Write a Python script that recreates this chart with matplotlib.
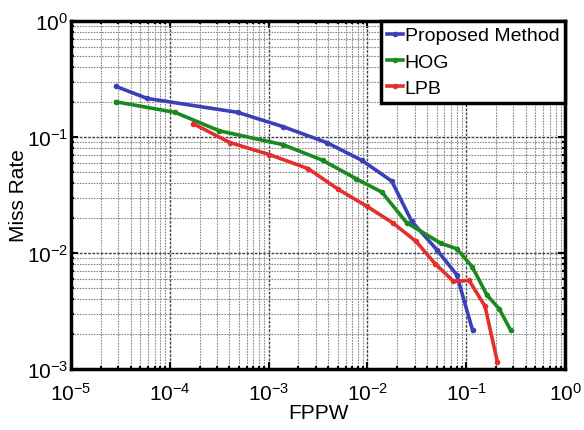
import numpy as np
import matplotlib.pyplot as plt

plt.rcParams['font.family'] = ['Liberation Sans', 'DejaVu Sans']
plt.rcParams['mathtext.fontset'] = 'custom'
plt.rcParams['mathtext.rm'] = 'Liberation Sans'
plt.rcParams['mathtext.it'] = 'Liberation Sans'

# data (FPPW, miss rate)
prop_x = [2.85e-5, 5.9e-5, 4.86e-4, 1.39e-3, 3.87e-3, 8.75e-3, 0.0176, 0.028, 0.0502, 0.080, 0.116]
prop_y = [0.273, 0.215, 0.163, 0.123, 0.0895, 0.063, 0.0417, 0.0188, 0.0107, 0.0065, 0.00215]

hog_x = [2.85e-5, 1.13e-4, 3.17e-4, 1.39e-3, 3.52e-3, 7.67e-3, 0.01397, 0.025, 0.0556, 0.080, 0.115, 0.161, 0.216, 0.282]
hog_y = [0.201, 0.163, 0.113, 0.086, 0.063, 0.0437, 0.0335, 0.0182, 0.0121, 0.0109, 0.0076, 0.00437, 0.00329, 0.00215]

lpb_x = [1.73e-4, 4.06e-4, 1.02e-3, 2.52e-3, 5.08e-3, 9.85e-3, 0.018, 0.031, 0.0483, 0.0741, 0.107, 0.155, 0.207]
lpb_y = [0.130, 0.0895, 0.0705, 0.0533, 0.0353, 0.0253, 0.0182, 0.0126, 0.0081, 0.0057, 0.0058, 0.00346, 0.00114]

fig = plt.figure(figsize=(5.84, 4.31), dpi=100)
ax = fig.add_axes([0.1216, 0.1415, 0.846, 0.8075])

ax.plot(prop_x, prop_y, color='#3b40b8', lw=2.6, marker='.', ms=6, label='Proposed Method')
ax.plot(hog_x, hog_y, color='#1a8a1f', lw=2.6, marker='.', ms=6, label='HOG')
ax.plot(lpb_x, lpb_y, color='#e3302f', lw=2.6, marker='.', ms=6, label='LPB')

ax.set_xscale('log')
ax.set_yscale('log')
ax.set_xlim(1e-5, 1)
ax.set_ylim(1e-3, 1)

ax.grid(True, which='major', color='#444444', linestyle=(0, (2, 1)), lw=1.0)
ax.grid(True, which='minor', color='#8a8a8a', linestyle=(0, (1.5, 1)), lw=0.8)

for s in ax.spines.values():
    s.set_linewidth(2.5)
ax.tick_params(which='both', direction='in', top=True, right=True, labelsize=15, width=1.5)
ax.tick_params(which='major', length=5)
ax.tick_params(axis='y', which='major', pad=2)
ax.tick_params(axis='x', which='major', pad=9)
ax.tick_params(which='minor', length=2.5)

ax.set_xlabel('FPPW', fontsize=15, labelpad=0)
ax.set_ylabel('Miss Rate', fontsize=15, labelpad=-1)

leg = ax.legend(loc='upper right', fontsize=14, fancybox=False, framealpha=1,
                edgecolor='black', borderaxespad=0, handlelength=0.8,
                handletextpad=0.1, borderpad=0.3, labelspacing=0.45)
leg.get_frame().set_linewidth(2.5)

fig.savefig('out.png', dpi=100)
